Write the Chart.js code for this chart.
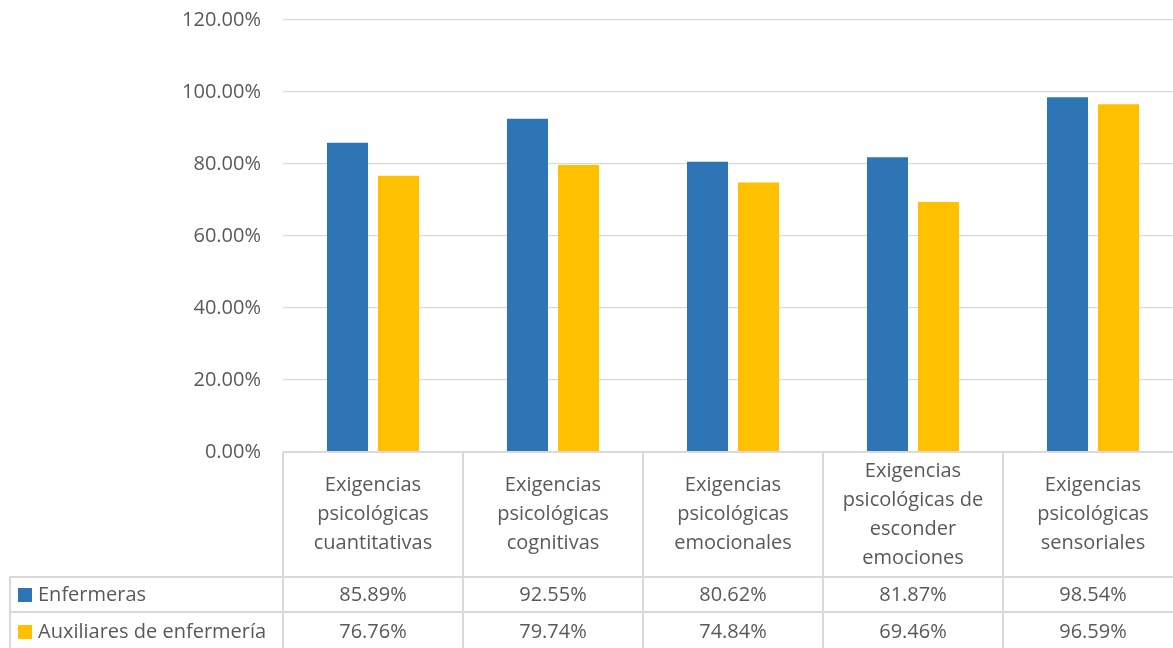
<!DOCTYPE html>
<html>
<head>
<meta charset="utf-8">
<script src="https://cdn.jsdelivr.net/npm/chart.js@4/dist/chart.umd.min.js"></script>
<style>
  html, body { margin: 0; padding: 0; background: #fff; overflow: hidden; }
  #wrap { width: 1183px; height: 648px; }
</style>
</head>
<body>
<div id="wrap"><canvas id="Plot"></canvas></div>
<script>
var categories = [
  ["Exigencias", "psicológicas", "cuantitativas"],
  ["Exigencias", "psicológicas", "cognitivas"],
  ["Exigencias", "psicológicas", "emocionales"],
  ["Exigencias", "psicológicas de", "esconder", "emociones"],
  ["Exigencias", "psicológicas", "sensoriales"]
];
var enfermeras = [85.89, 92.55, 80.62, 81.87, 98.54];
var auxiliares = [76.76, 79.74, 74.84, 69.46, 96.59];
var seriesNames = ["Enfermeras", "Auxiliares de enfermería"];
var colors = ["#2e75b6", "#ffc000"];

var textColor = '#595959';
var lineColor = '#d9d9d9';
var fontFam = "'Open Sans', 'Noto Sans', sans-serif";

function pct(v) { return v.toFixed(2) + '%'; }

// data table under the plot, drawn from the same arrays
var dataTable = {
  id: 'dataTable',
  afterDraw: function(chart) {
    var c = chart.ctx;
    var x = chart.scales.x;
    var area = chart.chartArea;
    var top = area.bottom;
    var headBottom = 577, row1 = 612, bottom = 650;
    var leftEdge = 10;
    var half = (x.getPixelForValue(1) - x.getPixelForValue(0)) / 2;
    c.save();
    c.strokeStyle = lineColor;
    c.lineWidth = 2;
    c.beginPath();
    c.moveTo(area.left, top); c.lineTo(area.right, top);
    c.moveTo(leftEdge, headBottom); c.lineTo(area.right, headBottom);
    c.moveTo(leftEdge, row1); c.lineTo(area.right, row1);
    c.moveTo(leftEdge, headBottom); c.lineTo(leftEdge, bottom);
    for (var i = 0; i <= categories.length; i++) {
      var xl = x.getPixelForValue(0) - half + i * half * 2;
      c.moveTo(xl, top); c.lineTo(xl, bottom);
    }
    c.stroke();

    c.fillStyle = textColor;
    c.font = '20px ' + fontFam;
    c.textAlign = 'center';
    c.textBaseline = 'middle';
    var lh = 29;
    var mid = (top + headBottom) / 2;
    categories.forEach(function(lines, i) {
      var cx = x.getPixelForValue(i);
      var y0 = mid - (lines.length - 1) * lh / 2;
      lines.forEach(function(t, j) { c.fillText(t, cx, y0 + j * lh); });
    });
    var rows = [enfermeras, auxiliares];
    var rowMid = [595, 632];
    rows.forEach(function(vals, r) {
      c.textAlign = 'center';
      vals.forEach(function(v, i) {
        c.fillText(pct(v), x.getPixelForValue(i), rowMid[r]);
      });
      c.fillStyle = colors[r];
      c.fillRect(18, rowMid[r] - 7, 14, 14);
      c.fillStyle = textColor;
      c.textAlign = 'left';
      c.fillText(seriesNames[r], 38, rowMid[r]);
    });
    c.restore();
  }
};

var ctx = document.getElementById('Plot').getContext('2d');
var myChart = new Chart(ctx, {
  type: 'bar',
  data: {
    labels: categories,
    datasets: [{
      label: seriesNames[0],
      data: enfermeras,
      backgroundColor: colors[0],
      categoryPercentage: 0.567,
      barPercentage: 0.804
    }, {
      label: seriesNames[1],
      data: auxiliares,
      backgroundColor: colors[1],
      categoryPercentage: 0.567,
      barPercentage: 0.804
    }]
  },
  options: {
    responsive: true,
    maintainAspectRatio: false,
    animation: false,
    layout: { padding: { top: 20, right: 0, bottom: 196, left: 0 } },
    plugins: {
      legend: { display: false },
      tooltip: { enabled: false }
    },
    scales: {
      x: { display: false },
      y: {
        min: 0,
        max: 120,
        border: { display: false },
        grid: { color: lineColor, lineWidth: 1.3, drawTicks: false },
        ticks: {
          stepSize: 20,
          padding: 22,
          color: textColor,
          font: { family: fontFam, size: 20 },
          callback: function(v) { return pct(v); }
        },
        afterFit: function(s) {
          s.width = 283;
          s.paddingTop = 0;
          s.paddingBottom = 0;
        }
      }
    }
  },
  plugins: [dataTable]
});
</script>
</body>
</html>
